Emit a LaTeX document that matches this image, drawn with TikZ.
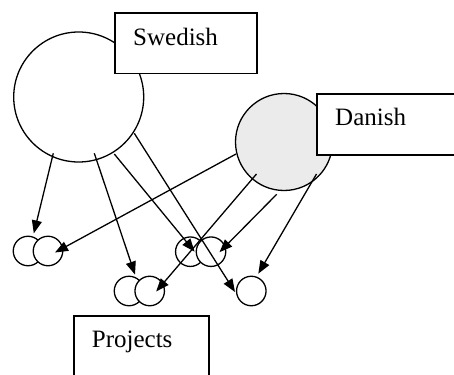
\documentclass[tikz,border=0pt]{standalone}
\usepackage{fontspec}
\setmainfont{Liberation Serif}
\usetikzlibrary{arrows.meta}

\begin{document}
\begin{tikzpicture}[x=1pt, y=-1pt, >={Triangle[length=13pt, width=10pt]}]
        \tikzstyle{bigcircle} = [draw=black, circle, line width=1.3pt, inner sep=0pt]
        \tikzstyle{smallcircle} = [draw=black, fill=white, circle, line width=1.3pt, inner sep=0pt, minimum size=29.5pt]
        \tikzstyle{labelbox} = [draw=black, fill=white, rectangle, line width=1.6pt, inner sep=0pt, anchor=north west]
        \tikzstyle{boxtext} = [anchor=base west, inner sep=0pt, font=\fontsize{25}{30}\selectfont]
        \tikzstyle{arrowline} = [->, line width=1.3pt]

        \useasboundingbox (0,0) rectangle (454,374);

        % groups
        \node[bigcircle, minimum size=130pt] (swedish) at (78.7,97) {};
        \node[bigcircle, fill=black!8, minimum size=97pt] (danish) at (284,142) {};

        % projects
        \node[smallcircle] (la) at (28,251) {};
        \node[smallcircle] (lb) at (48,251) {};
        \node[smallcircle] (ma) at (190.3,251.7) {};
        \node[smallcircle] (mb) at (211,251.7) {};
        \node[smallcircle] (ba) at (129,291) {};
        \node[smallcircle] (bb) at (149.7,291) {};
        \node[smallcircle] (sc) at (251.3,291) {};

        % labels
        \node[labelbox, minimum width=142pt, minimum height=60.7pt] (swedishbox) at (114,12) {};
        \node[boxtext] (swedishtext) at (133,45.7) {Swedish};
        \node[labelbox, minimum width=170pt, minimum height=61pt] (danishbox) at (316,93) {};
        \node[boxtext] (danishtext) at (335,125.7) {Danish};
        \node[labelbox, minimum width=135pt, minimum height=80pt] (projectsbox) at (73,315) {};
        \node[boxtext] (projectstext) at (91.7,347) {Projects};

        % memberships
        \draw[arrowline] ([shift={(-25.4,56.3)}]swedish.center) -- ([shift={(5.8,-17.6)}]la.center);
        \draw[arrowline] ([shift={(15.6,56.3)}]swedish.center) -- ([shift={(6,-16.4)}]ba.center);
        \draw[arrowline] ([shift={(35.6,57)}]swedish.center) -- ([shift={(4.3,0)}]ma.center);
        \draw[arrowline] ([shift={(55.6,36.3)}]swedish.center) -- ([shift={(-16.3,1)}]sc.center);
        \draw[arrowline] ([shift={(-48,12)}]danish.center) -- ([shift={(7,1.5)}]lb.center);
        \draw[arrowline] ([shift={(-27.5,32)}]danish.center) -- ([shift={(6.5,0.5)}]bb.center);
        \draw[arrowline] ([shift={(-7.3,52.3)}]danish.center) -- ([shift={(8.5,0.5)}]mb.center);
        \draw[arrowline] ([shift={(32.5,32)}]danish.center) -- ([shift={(7,-17.3)}]sc.center);
    \end{tikzpicture}
\end{document}
